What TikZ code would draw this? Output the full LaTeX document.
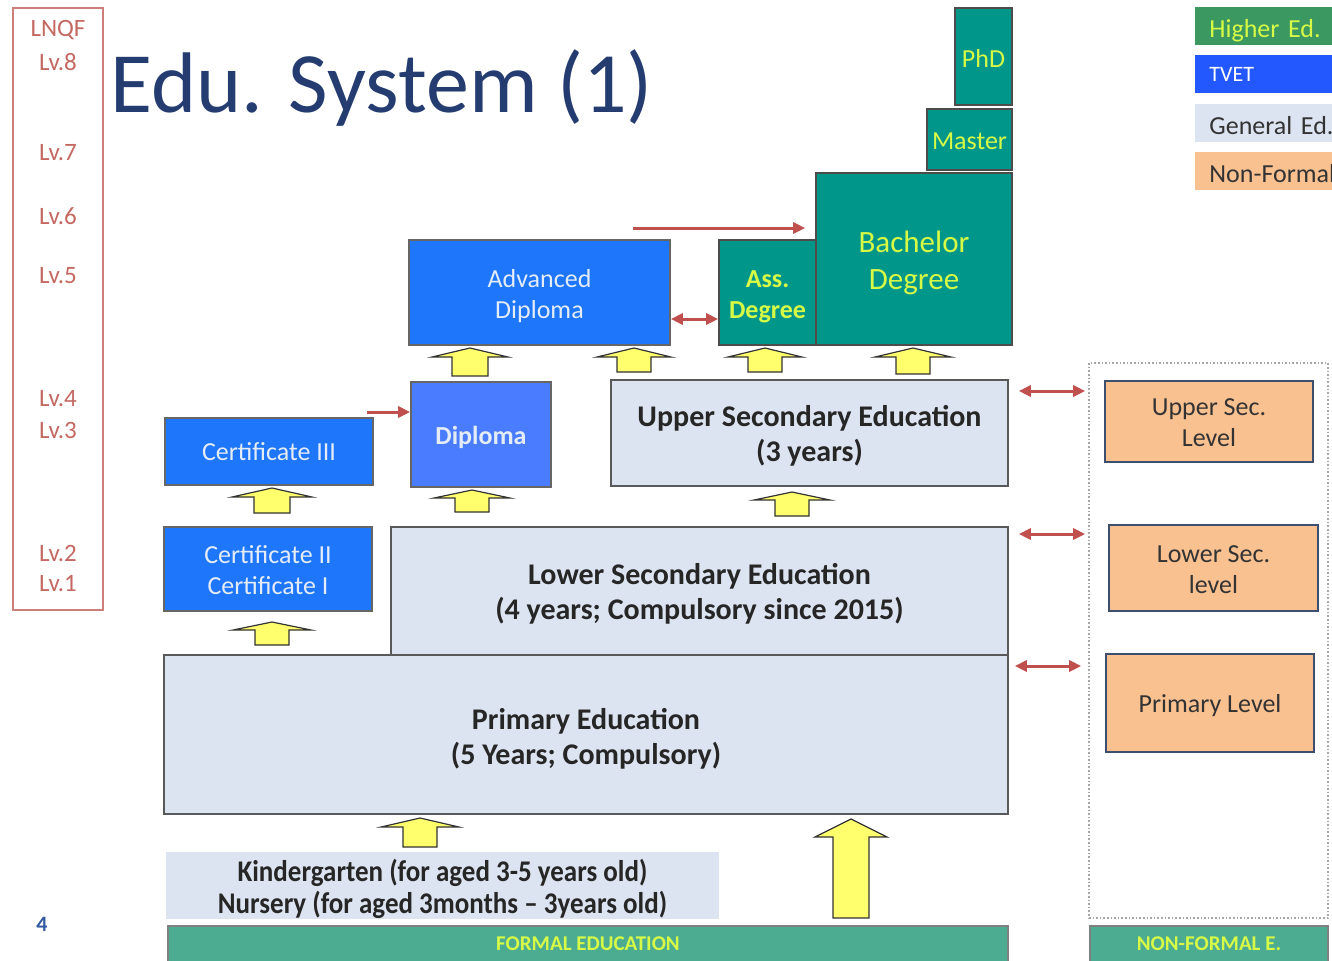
\documentclass[tikz,border=0pt]{standalone}
\usepackage{fontspec}
\setmainfont{Carlito}
\newfontfamily\narrowfont[FakeStretch=0.9]{Carlito}
\usetikzlibrary{calc,arrows.meta}
\definecolor{hiedfill}{RGB}{0,150,138}
\definecolor{hiedtext}{RGB}{214,250,70}
\definecolor{tvetfill}{RGB}{30,118,250}
\definecolor{diplfill}{RGB}{74,124,255}
\definecolor{tvettext}{RGB}{228,236,248}
\definecolor{genfill}{RGB}{219,228,240}
\definecolor{nffill}{RGB}{249,192,144}
\definecolor{nfline}{RGB}{62,78,110}
\definecolor{redline}{RGB}{192,80,77}
\definecolor{lnqfred}{RGB}{196,104,98}
\definecolor{titleblue}{RGB}{36,60,112}
\definecolor{barfill}{RGB}{76,172,146}
\definecolor{legfill}{RGB}{58,152,96}
\definecolor{legblue}{RGB}{36,88,255}
\definecolor{arrowyellow}{RGB}{255,255,110}
\definecolor{pageblue}{RGB}{50,90,160}
\newcommand{\yellowup}[6]{%
  \draw[yarrow] (#1-#6,#4) -- (#1-#6,#3) -- (#1-#5,#3) -- (#1,#2)
    -- (#1+#5,#3) -- (#1+#6,#3) -- (#1+#6,#4) -- cycle;}
\newcommand{\topgap}[1]{\rule{0pt}{#1}}

\begin{document}
\begin{tikzpicture}[x=0.5pt,y=-0.5pt,
    hied/.style={draw=black!70,line width=0.8pt,fill=hiedfill,text=hiedtext,inner sep=0,align=center,font=\fontsize{13}{15.5}\selectfont},
    tvet/.style={draw=black!60,line width=0.8pt,fill=tvetfill,text=tvettext,inner sep=0,align=center,font=\fontsize{13}{15.5}\selectfont},
    gen/.style={draw=black!65,line width=0.8pt,fill=genfill,text=black!85,inner sep=0,align=center,font=\bfseries\fontsize{15}{17.5}\selectfont},
    nonf/.style={draw=nfline,line width=1pt,fill=nffill,text=black!80,inner sep=0,align=center,font=\fontsize{13}{15.5}\selectfont},
    bar/.style={draw=black!50,line width=0.8pt,fill=barfill,text=hiedtext,inner sep=0,font=\bfseries\fontsize{10.5}{12}\selectfont},
    legend/.style={anchor=west,inner xsep=7pt,inner ysep=0,text width=90pt,text height=12pt,text depth=0pt,minimum height=19pt,align=left,font=\fontsize{13}{15}\selectfont},
    lvtxt/.style={text=lnqfred,inner sep=0,font=\fontsize{12.5}{14}\selectfont},
    redarr/.style={-{Triangle[length=6pt,width=5.5pt]},draw=redline,line width=1.5pt},
    dblarr/.style={{Triangle[length=6pt,width=5.5pt]}-{Triangle[length=6pt,width=5.5pt]},draw=redline,line width=1.5pt},
    yarrow/.style={draw=black!80,line width=0.6pt,fill=arrowyellow,line join=miter}]
  \useasboundingbox (0,0) rectangle (1332,960);
  \clip (0,0) rectangle (1332,960);

  \node[draw=lnqfred!85,line width=1pt,minimum width=45pt,minimum height=301pt,inner sep=0] (lnqf) at (58,309) {};
  \node[lvtxt] (lnqftxt) at (58,30) {LNQF};
  \node[lvtxt] (lv8) at (58,62) {Lv.8};
  \node[lvtxt] (lv7) at (58,153) {Lv.7};
  \node[lvtxt] (lv6) at (58,216) {Lv.6};
  \node[lvtxt] (lv5) at (58,276) {Lv.5};
  \node[lvtxt] (lv4) at (58,399) {Lv.4};
  \node[lvtxt] (lv3) at (58,430) {Lv.3};
  \node[lvtxt] (lv2) at (58,553) {Lv.2};
  \node[lvtxt] (lv1) at (58,584) {Lv.1};

  \node[anchor=base west,inner sep=0,text=titleblue,font=\fontsize{43}{48}\selectfont] (title) at (110,112) {Edu. System (1)};

  \node[hied,minimum width=28.5pt,minimum height=48.5pt,text height=10.5pt] (phd) at (983.5,56.5) {PhD};
  \node[hied,minimum width=42.5pt,minimum height=30.5pt,text height=10.5pt] (master) at (969.5,139.5) {Master};
  \node[hied,minimum width=98pt,minimum height=86pt,font=\fontsize{15.5}{18.5}\selectfont] (bach) at (914,259) {\topgap{15pt}Bachelor\\Degree};
  \node[hied,minimum width=48.5pt,minimum height=52.5pt,font=\bfseries\fontsize{13}{15.5}\selectfont] (ass) at (767.5,292.5) {\topgap{12.4pt}Ass.\\Degree};

  \node[tvet,minimum width=130.5pt,minimum height=52.5pt] (adv) at (539.5,292.5) {\topgap{12.6pt}Advanced\\Diploma};
  \node[tvet,fill=diplfill,minimum width=70pt,minimum height=52.5pt,text height=12pt,font=\bfseries\fontsize{13}{15.5}\selectfont] (dipl) at (481,434.5) {Diploma};
  \node[tvet,minimum width=104pt,minimum height=33.5pt] (certiii) at (269,451.5) {Certificate III};
  \node[tvet,minimum width=104pt,minimum height=42pt] (certi) at (268,569) {\topgap{10.2pt}Certificate II\\Certificate I};

  \node[gen,minimum width=198.5pt,minimum height=53pt] (upper) at (809.5,433) {\topgap{13.6pt}Upper Secondary Education\\(3 years)};
  \node[gen,minimum width=308.5pt,minimum height=64pt] (lower) at (699.5,591) {\topgap{13pt}Lower Secondary Education\\(4 years; Compulsory since 2015)};
  \node[gen,minimum width=422pt,minimum height=79.5pt] (primary) at (586,734.5) {\topgap{14.8pt}Primary Education\\(5 Years; Compulsory)};
  \node[gen,draw=none,minimum width=276.5pt,minimum height=32.5pt,font=\narrowfont\bfseries\fontsize{15}{16}\selectfont] (kinder) at (442.5,885.5) {\topgap{14.5pt}Kindergarten (for aged 3-5 years old)\\Nursery (for aged 3months – 3years old)};

  \node[bar,minimum width=420pt,minimum height=18pt] (formal) at (588,944) {FORMAL EDUCATION};
  \node[bar,minimum width=119pt,minimum height=18pt] (nfbar) at (1209,944) {NON-FORMAL E.};

  \node[draw=black!35,densely dotted,line width=0.8pt,minimum width=119.5pt,minimum height=277.5pt,inner sep=0] (nfarea) at (1208.5,640.5) {};
  \node[nonf,minimum width=104pt,minimum height=40.5pt] (upsec) at (1209,421.5) {\topgap{10pt}Upper Sec.\\Level};
  \node[nonf,minimum width=104.5pt,minimum height=43pt] (losec) at (1213.5,568) {\topgap{10pt}Lower Sec.\\level};
  \node[nonf,minimum width=104pt,minimum height=49pt,text height=11.5pt] (prilev) at (1210,703) {Primary Level};

  \node[legend,fill=legfill,text=hiedtext,text height=11.8pt] (lghied) at (1195,26) {Higher Ed.};
  \node[legend,fill=legblue,text=white,text height=7.5pt,font=\fontsize{11}{13}\selectfont] (lgtvet) at (1195,74) {TVET};
  \node[legend,fill=genfill,text=black!80] (lggen) at (1195,122.5) {General Ed.};
  \node[legend,fill=nffill,text=black!80] (lgnf) at (1195,170.5) {Non-Formal};

  \node[inner sep=0,text=pageblue,font=\bfseries\fontsize{11}{12}\selectfont] (pagenum) at (42,924) {4};

  \coordinate (tobach) at (633,228);
  \coordinate (todipl) at (367,412);
  \draw[redarr] (tobach) -- ($(bach.west)+(-10,-31)$);
  \draw[redarr] (todipl) -- ($(dipl.west)+(0,-22.5)$);
  \draw[dblarr] ($(adv.east)+(0,26.5)$) -- ($(ass.west)+(0,26.5)$);
  \draw[dblarr] ($(upper.east)+(10,-42)$) -- ($(nfarea.west)+(-3,-249.5)$);
  \draw[dblarr] ($(lower.east)+(10,-57)$) -- ($(nfarea.west)+(-3,-106.5)$);
  \draw[dblarr] ($(primary.east)+(6,-68.5)$) -- ($(nfarea.west)+(-7,25.5)$);

  \yellowup{470}{348}{357}{376}{38}{18}
  \yellowup{634}{348}{357}{372}{37}{17}
  \yellowup{765}{348}{357}{372}{37}{17}
  \yellowup{913}{348}{357}{374}{38}{17}
  \yellowup{272}{488}{497}{513}{40}{18}
  \yellowup{472}{490}{498}{512}{38}{17}
  \yellowup{792}{492}{500}{516}{38}{17}
  \yellowup{272}{622}{630}{645}{39}{17}
  \yellowup{420}{818}{827}{847}{39}{17}
  \yellowup{851}{819}{837}{918}{36}{18}
\end{tikzpicture}
\end{document}
